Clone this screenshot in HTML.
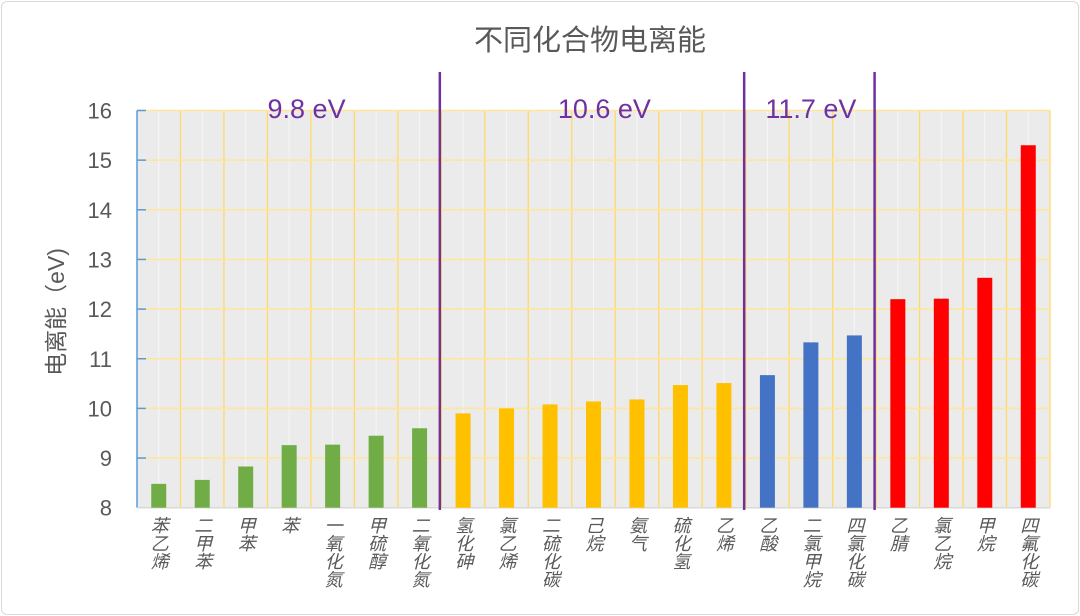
<!DOCTYPE html>
<html><head><meta charset="utf-8"><style>
body{margin:0;background:#fff;}
#wrap{position:relative;width:1080px;height:616px;overflow:hidden;font-family:"Liberation Sans","Noto Sans CJK SC",sans-serif;}
#frame{position:absolute;left:1px;top:1px;width:1076px;height:612px;border:1px solid #d9d9d9;border-radius:6px;}
.xl{position:absolute;top:516px;writing-mode:vertical-rl;font-style:italic;font-size:18px;line-height:18px;color:#595959;font-family:"Liberation Sans","Noto Sans CJK SC",sans-serif;transform:translateX(-50%);}
</style></head><body>
<div id="wrap">
<div id="frame"></div>
<svg id="svg" width="1080" height="616" style="position:absolute;left:0;top:0"></svg>
<div id="xlabels"></div>
</div>
<script>
const categories=["苯乙烯","二甲苯","甲苯","苯","一氧化氮","甲硫醇","二氧化氮","氢化砷","氯乙烯","二硫化碳","己烷","氨气","硫化氢","乙烯","乙酸","二氯甲烷","四氯化碳","乙腈","氯乙烷","甲烷","四氟化碳"];
const values=[8.48,8.56,8.83,9.26,9.27,9.45,9.60,9.90,10.0,10.08,10.14,10.18,10.47,10.51,10.67,11.33,11.47,12.2,12.21,12.63,15.3];
const groups=[0,0,0,0,0,0,0,1,1,1,1,1,1,1,2,2,2,3,3,3,3];
const groupColors=["#70ad47","#ffc000","#4472c4","#ff0000"];
const yTicks=[8,9,10,11,12,13,14,15,16];
const dividerIdx=[7,14,17];
const groupLabels=["9.8 eV","10.6 eV","11.7 eV"];
const groupLabelCenters=[3.9,10.75,15.5];

const L=137,R=1050,T=110.5,B=507.7,ymin=8,ymax=16;
const n=categories.length,cw=(R-L)/n;
const xs=i=>L+i*cw;
const yv=v=>B-(v-ymin)/(ymax-ymin)*(B-T);
const NS="http://www.w3.org/2000/svg";
const svg=document.getElementById('svg');
function mk(tag,attrs,name){const e=document.createElementNS(NS,tag);for(const k in attrs)e.setAttribute(k,attrs[k]);


svg.appendChild(e);return e;}
mk('rect',{x:L,y:T,width:R-L,height:B-T,fill:'#ebebeb'},'plot-area');
for(let i=0;i<n;i++){mk('line',{x1:xs(i+0.5),x2:xs(i+0.5),y1:T,y2:B,stroke:'#f7f7f7','stroke-width':1},'minor-gridline');}
for(let i=1;i<=n;i++){mk('line',{x1:xs(i),x2:xs(i),y1:T,y2:B,stroke:'#ffd966','stroke-width':1.3},'vertical-gridline');}
yTicks.forEach(t=>{
 if(t>ymin)mk('line',{x1:L,x2:R,y1:yv(t),y2:yv(t),stroke:'#ffe699','stroke-width':1.5},'horizontal-gridline');
 mk('line',{x1:L,x2:L+9,y1:yv(t),y2:yv(t),stroke:'#5b9bd5','stroke-width':1.5},'y-tick');
 const tx=mk('text',{x:112,y:yv(t)+8,'text-anchor':'end','font-size':22,fill:'#595959'},'y-tick-label');tx.textContent=t;
});
mk('line',{x1:L,x2:L,y1:T,y2:B,stroke:'#5b9bd5','stroke-width':1.5},'y-axis-line');
mk('line',{x1:L,x2:R,y1:B,y2:B,stroke:'#d9d9d9','stroke-width':1.5},'x-axis-line');
values.forEach((v,i)=>{
 mk('rect',{x:xs(i+0.5)-7.5,y:yv(v),width:15,height:B-yv(v),fill:groupColors[groups[i]]},'bar-'+categories[i]);
});
dividerIdx.forEach(d=>{mk('line',{x1:xs(d)-1.5,x2:xs(d)-1.5,y1:72,y2:510,stroke:'#7030a0','stroke-width':2.5},'group-divider');});
groupLabels.forEach((g,i)=>{const t=mk('text',{x:xs(groupLabelCenters[i]),y:118,'text-anchor':'middle','font-size':27,fill:'#7030a0'},'group-label');t.textContent=g;});
const tt=mk('text',{x:590,y:50,'text-anchor':'middle','font-size':29,fill:'#595959'},'chart-title');tt.textContent='不同化合物电离能';
const yt=mk('text',{x:0,y:0,'text-anchor':'middle','font-size':23,fill:'#595959',transform:'translate(64,312) rotate(-90)'},'y-axis-title');yt.textContent='电离能（eV)';
const xl=document.getElementById('xlabels');
categories.forEach((c,i)=>{const d=document.createElement('div');d.className='xl';d.style.left=xs(i+0.5)+'px';d.textContent=c;


xl.appendChild(d);});
</script>
</body></html>
